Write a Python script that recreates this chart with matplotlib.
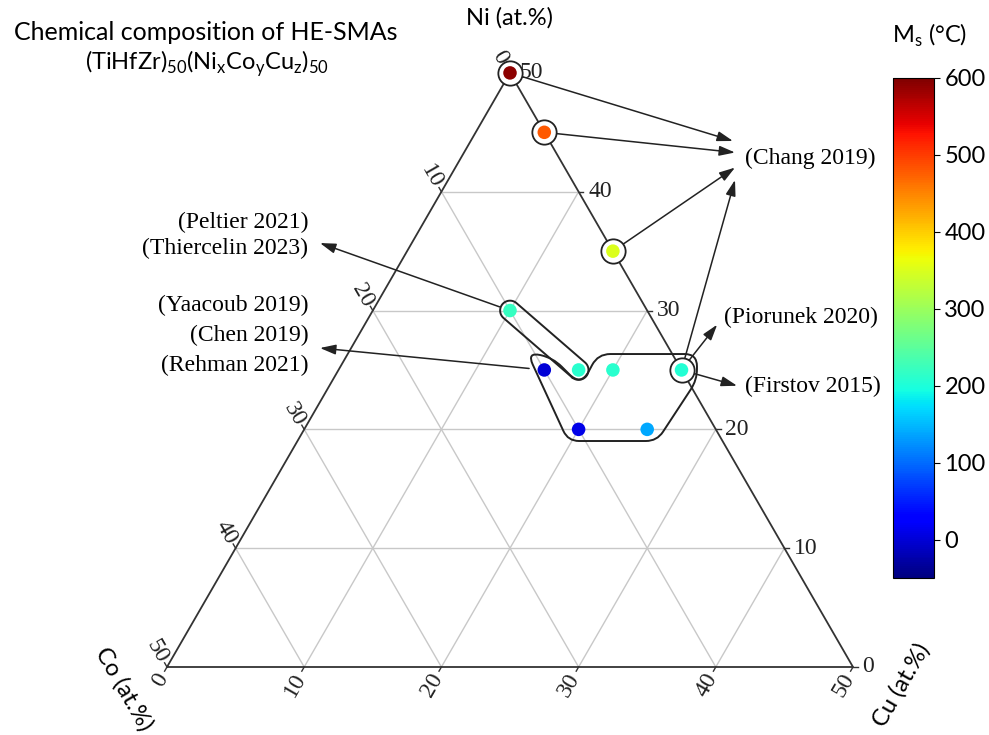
import numpy as np
import matplotlib
matplotlib.use('Agg')
import matplotlib.pyplot as plt
from matplotlib.path import Path
from matplotlib.patches import PathPatch
from matplotlib.colors import Normalize
from matplotlib.cm import ScalarMappable

# (TiHfZr)50(NixCoyCuz)50 alloys: Ni and Cu in at.%, Co = 50 - Ni - Cu
ni = [50, 45, 35, 30, 25, 25, 25, 25, 20, 20]
cu = [0, 5, 15, 10, 15, 17.5, 20, 25, 20, 25]
ms = [590, 480, 350, 220, 0, 210, 210, 205, 10, 140]   # Ms in degC
circled = [0, 1, 2, 7]

ticks = [0, 10, 20, 30, 40, 50]
cbar_ticks = [0, 100, 200, 300, 400, 500, 600]
ms_min, ms_max = -50, 600

# group outlines, (Cu, Ni) corners and corner rounding
group_cu = [12.98, 15.13, 18.35, 18.24, 25.46, 26.55, 26.20, 19.72]
group_ni = [26.51, 26.01, 23.65, 26.34, 26.34, 24.15, 19.02, 19.02]
group_round = [1.0, 0.9, 1.2, 0.9, 0.9, 0.8, 0.8, 0.8]
pill_ends = (3, 5)
pill_r = 0.72

# references: (text, label position, [(source point, arrow tip)]) in plot units
refs_right = [
    ('(Chang 2019)', (42.1, 37.1), [(0, (41.25, 38.34)), (1, (41.4, 37.5)),
                                    (2, (41.4, 36.4)), (7, (41.4, 35.5))]),
    ('(Piorunek 2020)', (40.6, 25.5), [(7, (40.1, 24.95))]),
    ('(Firstov 2015)', (42.1, 20.45), [(7, (41.55, 20.5))]),
]
refs_left = [
    (['(Peltier 2021)', '(Thiercelin 2023)'], (10.3, 32.4), 1.9, [(3, (11.15, 30.9))]),
    (['(Yaacoub 2019)', '(Chen 2019)', '(Rehman 2021)'], (10.3, 26.35), 2.2, [(4, (11.15, 23.25))]),
]

H = np.sqrt(3) / 2


def tern(c, n):
    c = np.asarray(c, float)
    n = np.asarray(n, float)
    return c + n / 2, n * H


def rounded_path(px, py, rad):
    pts = np.column_stack([px, py])
    n = len(pts)
    verts, codes = [], []
    for i in range(n):
        p, v, q = pts[i - 1], pts[i], pts[(i + 1) % n]
        a = v + (p - v) / np.linalg.norm(p - v) * rad[i]
        b = v + (q - v) / np.linalg.norm(q - v) * rad[i]
        verts += [a, v, b]
        codes += [Path.MOVETO if i == 0 else Path.LINETO, Path.CURVE3, Path.CURVE3]
    verts += [verts[0], verts[0]]
    codes += [Path.LINETO, Path.CLOSEPOLY]
    return Path(verts, codes)


X, Y = tern(cu, ni)

fig = plt.figure(figsize=(9.89, 7.35), dpi=100)
ax = fig.add_axes([0, 0, 1, 1])
s = 13.72
ax.set_xlim(-167 / s, (989 - 167) / s)
ax.set_ylim((667 - 735) / s, 667 / s)
ax.axis('off')

serif = 'Liberation Serif'
sans = 'Lato'
grid_c = '#c8c8c8'

# grid
for t in ticks[1:-1]:
    gx, gy = tern([0, 50 - t], [t, t])
    ax.plot(gx, gy, color=grid_c, lw=1, zorder=1)
    gx, gy = tern([t, t], [0, 50 - t])
    ax.plot(gx, gy, color=grid_c, lw=1, zorder=1)
    gx, gy = tern([0, 50 - t], [50 - t, 0])
    ax.plot(gx, gy, color=grid_c, lw=1, zorder=1)

# triangle
bx, by = tern([0, 50, 0, 0], [0, 0, 50, 0])
ax.plot(bx, by, color='#333333', lw=1.3, zorder=2, solid_joinstyle='miter')

tl = 0.35
for t in ticks:
    # Ni, right edge
    x0, y0 = tern(50 - t, t)
    ax.plot([x0, x0 + tl], [y0, y0], color='#333333', lw=1, zorder=2)
    ax.text(x0 + 0.7, y0, str(t), fontsize=17, family=serif, ha='left', va='center', color='#222222')
    # Co, left edge
    x0, y0 = tern(0, 50 - t)
    ax.plot([x0, x0 - tl * 0.5], [y0, y0 + tl * H], color='#333333', lw=1, zorder=2)
    ax.text(x0 - 0.72, y0 + 1.12, str(t), fontsize=17, family=serif, ha='center', va='center',
            rotation=-60, color='#222222')
    # Cu, bottom edge
    x0, y0 = tern(t, 0)
    ax.plot([x0, x0 - tl * 0.5], [y0, y0 - tl * H], color='#333333', lw=1, zorder=2)
    ax.text(x0 - 0.25, y0 - 0.6, str(t), fontsize=17, family=serif, ha='right', va='center',
            rotation=60, rotation_mode='anchor', color='#222222')

ax.text(25.0, 47.3, 'Ni (at.%)', fontsize=17, family=sans, ha='center', va='center')
ax.text(-3.15, -1.6, 'Co (at.%)', fontsize=17, family=sans, ha='center', va='center', rotation=-60)
ax.text(53.5, -1.3, 'Cu (at.%)', fontsize=17, family=sans, ha='center', va='center', rotation=60)

# group outlines
gx, gy = tern(group_cu, group_ni)
ax.add_patch(PathPatch(rounded_path(gx, gy, group_round), fill=False, ec='#222222', lw=1.4, zorder=3))

pa = np.array([X[pill_ends[0]], Y[pill_ends[0]]])
pb = np.array([X[pill_ends[1]], Y[pill_ends[1]]])
th = np.arctan2(*(pb - pa)[::-1])
a1 = np.linspace(th - np.pi / 2, th + np.pi / 2, 40)
a2 = a1 + np.pi
outline = np.vstack([pb + pill_r * np.column_stack([np.cos(a1), np.sin(a1)]),
                     pa + pill_r * np.column_stack([np.cos(a2), np.sin(a2)])])
outline = np.vstack([outline, outline[:1]])
ax.plot(outline[:, 0], outline[:, 1], color='#222222', lw=1.4, zorder=3)

# arrows and reference labels
aprops = dict(arrowstyle='-|>,head_length=0.95,head_width=0.3', color='#222222', lw=1.1,
              mutation_scale=10, shrinkB=0)
for text, pos, arrows in refs_right:
    ax.text(pos[0], pos[1], text, fontsize=17, family=serif, ha='left', va='center')
    for i, tip in arrows:
        ax.annotate('', xy=tip, xytext=(X[i], Y[i]), zorder=2.5,
                    arrowprops=dict(aprops, shrinkA=8.5))
for lines, pos, step, arrows in refs_left:
    for k, line in enumerate(lines):
        ax.text(pos[0], pos[1] - k * step, line, fontsize=17, family=serif, ha='right', va='center')
    for i, tip in arrows:
        ax.annotate('', xy=tip, xytext=(X[i], Y[i]), zorder=2.5,
                    arrowprops=dict(aprops, shrinkA=8 if i == 3 else 11))

# points
norm = Normalize(ms_min, ms_max)
ax.plot(X[circled], Y[circled], 'o', ms=17.5, mfc='white', mec='#222222', mew=1.3, zorder=4)
ax.scatter(X, Y, c=ms, cmap='jet', norm=norm, s=95, edgecolors='none', zorder=5)

# title
fig.text(206 / 989, 1 - 33 / 735, 'Chemical composition of HE-SMAs', fontsize=18, family=sans,
         ha='center', va='center')
plt.rcParams['mathtext.fontset'] = 'custom'
plt.rcParams['mathtext.rm'] = sans
fig.text(207 / 989, 1 - 64 / 735,
         r'(TiHfZr)$_{\mathrm{50}}$(Ni$_{\mathrm{x}}$Co$_{\mathrm{y}}$Cu$_{\mathrm{z}}$)$_{\mathrm{50}}$',
         fontsize=17, family=sans, ha='center', va='center')

# colorbar
cax = fig.add_axes([893 / 989, (735 - 578) / 735, 41 / 989, 500 / 735])
cb = fig.colorbar(ScalarMappable(norm=norm, cmap='jet'), cax=cax, ticks=cbar_ticks)
cb.outline.set_linewidth(0.8)
cax.tick_params(labelsize=17, length=4, width=0.8)
for lab in cax.get_yticklabels():
    lab.set_family(sans)
fig.text(930 / 989, 1 - 35 / 735, r'M$_{\mathrm{s}}$ (°C)', fontsize=17, family=sans,
         ha='center', va='center')

fig.savefig('out.png', dpi=100)
